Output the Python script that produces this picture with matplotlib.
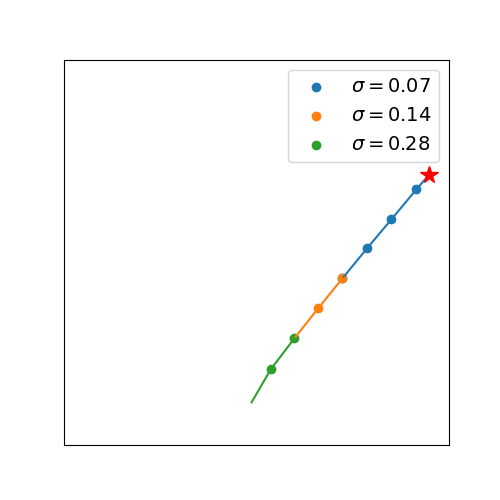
import numpy as np
import matplotlib
matplotlib.use("Agg")
import matplotlib.pyplot as plt

# path points for each sigma (axes units 0..1)
sigmas = [0.07, 0.14, 0.28]
colors = ["tab:blue", "tab:orange", "tab:green"]

path_x = {
    0.07: [0.724, 0.788, 0.851, 0.916, 0.948],
    0.14: [0.599, 0.661, 0.724],
    0.28: [0.488, 0.538, 0.599],
}
path_y = {
    0.07: [0.433, 0.511, 0.586, 0.664, 0.701],
    0.14: [0.277, 0.355, 0.433],
    0.28: [0.111, 0.197, 0.277],
}
# which points get a dot
dot_x = {
    0.07: [0.724, 0.788, 0.851, 0.916],
    0.14: [0.661, 0.724],
    0.28: [0.538, 0.599],
}
dot_y = {
    0.07: [0.433, 0.511, 0.586, 0.664],
    0.14: [0.355, 0.433],
    0.28: [0.197, 0.277],
}
target = (0.948, 0.701)

fig, ax = plt.subplots(figsize=(5, 5), dpi=100)
for s, c in zip(sigmas, colors):
    ax.plot(path_x[s], path_y[s], color=c)
    ax.scatter(dot_x[s], dot_y[s], color=c, label=r"$\sigma = %.2f$" % s)
ax.plot(target[0], target[1], "r*", markersize=13)

ax.set_xlim(0, 1)
ax.set_ylim(0, 1)
ax.set_aspect("equal")
ax.set_xticks([])
ax.set_yticks([])
ax.legend(loc="upper right", fontsize=14)
plt.savefig("out.png")
